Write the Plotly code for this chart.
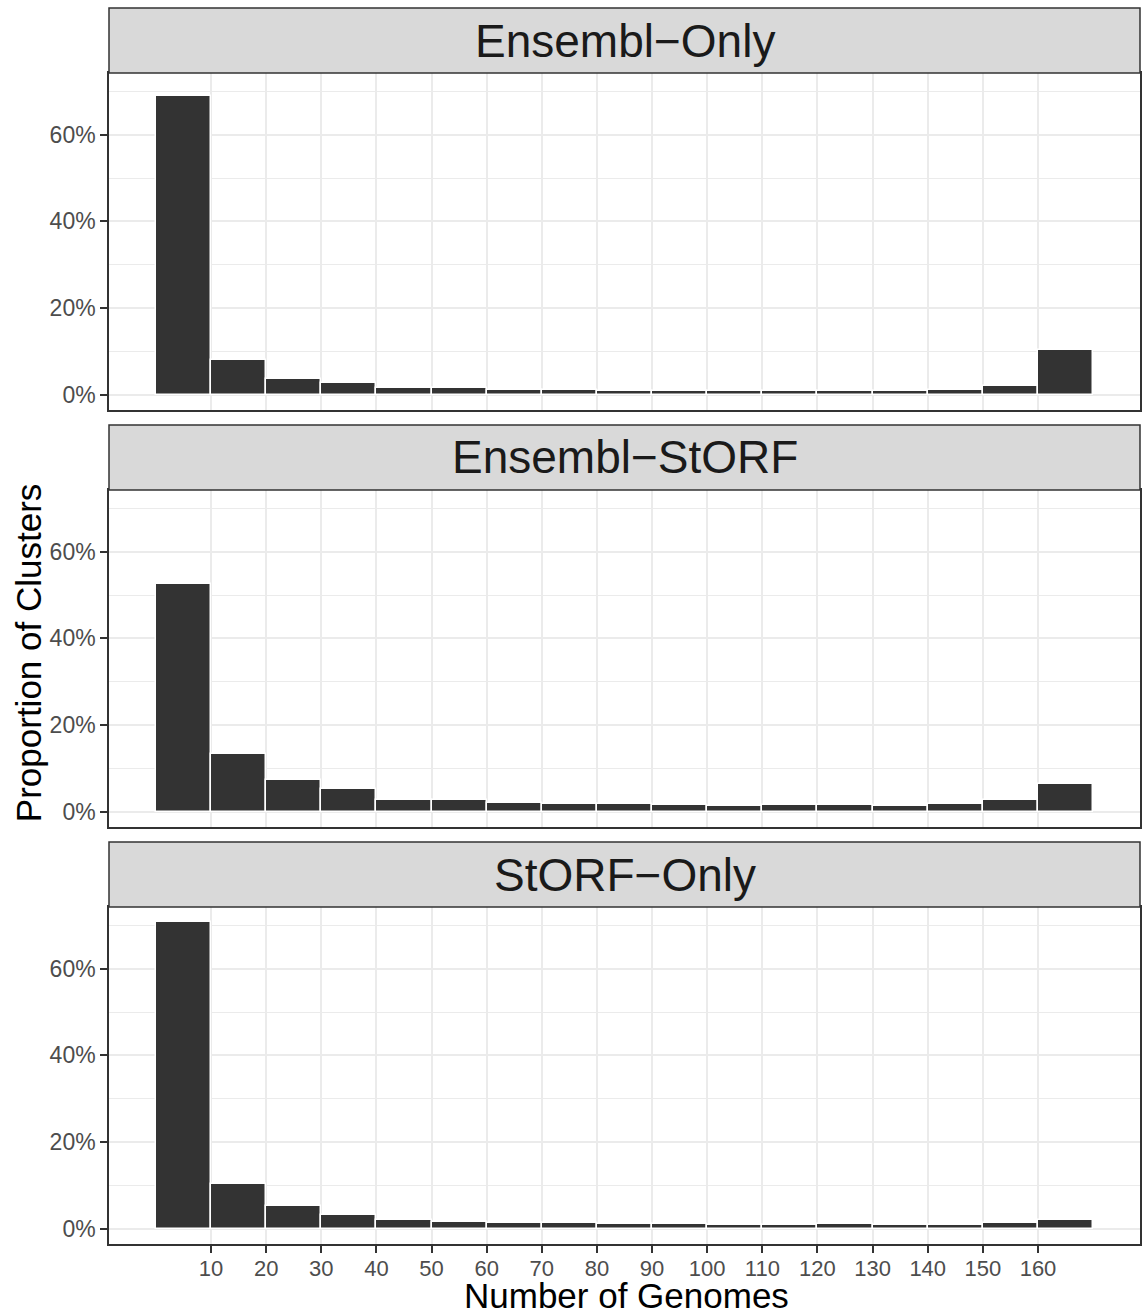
import plotly.graph_objects as go

# ---- data ----
facets = ["Ensembl\u2212Only", "Ensembl\u2212StORF", "StORF\u2212Only"]
bin_centers = [5, 15, 25, 35, 45, 55, 65, 75, 85, 95, 105, 115, 125, 135, 145, 155, 165]
ensembl_only = [69.0, 8.0, 3.7, 2.6, 1.5, 1.5, 1.1, 1.1, 0.9, 0.85, 0.8, 0.8, 0.8, 0.8, 1.0, 1.9, 10.2]
ensembl_storf = [52.6, 13.3, 7.4, 5.2, 2.8, 2.6, 2.1, 1.8, 1.75, 1.6, 1.4, 1.5, 1.45, 1.2, 1.7, 2.75, 6.4]
storf_only = [70.7, 10.4, 5.3, 3.2, 2.05, 1.5, 1.3, 1.2, 1.0, 1.0, 0.9, 0.9, 1.0, 0.85, 0.9, 1.3, 2.05]
x_ticks = [10, 20, 30, 40, 50, 60, 70, 80, 90, 100, 110, 120, 130, 140, 150, 160]
y_ticks = [0, 20, 40, 60]
y_minor = [10, 30, 50, 70]
series = [ensembl_only, ensembl_storf, storf_only]

# ---- layout geometry (pixels) ----
W, H = 1143, 1315
ML, MR, MT, MB = 109, 1, 8, 71
plot_h = H - MT - MB  # 1236
def py(p):  # pixel y -> paper
    return (H - MB - p) / plot_h

panels = [(73, 410), (490, 827), (907, 1244)]
strips = [(8, 73), (425, 490), (842, 907)]

fig = go.Figure()
font_family = "Liberation Sans, Arial, sans-serif"

for i, vals in enumerate(series):
    n = "" if i == 0 else str(i + 1)
    fig.add_trace(go.Bar(
        x=bin_centers, y=vals, width=10,
        marker=dict(color="#333333", line=dict(color="white", width=1.5)),
        xaxis="x" + n, yaxis="y" + n, showlegend=False, hoverinfo="x+y",
    ))
    top, bot = panels[i]
    last = (i == 2)
    fig.update_layout(**{
        "xaxis" + n: dict(
            domain=[0, 1], anchor="y" + n, range=[-8.5, 178.5],
            tickvals=x_ticks, ticktext=[str(t) for t in x_ticks],
            showticklabels=last, ticks="outside" if last else "", ticklen=7, tickwidth=1.5,
            tickcolor="#333333", ticklabelstandoff=-3,
            tickfont=dict(size=22, color="#4D4D4D", family=font_family),
            showgrid=True, gridcolor="#EBEBEB", gridwidth=2,
            showline=True, linecolor="#333333", linewidth=1.5, mirror=True,
            zeroline=False, fixedrange=True,
        ),
        "yaxis" + n: dict(
            domain=[py(bot), py(top)], anchor="x" + n, range=[-3.535, 74.235],
            tickvals=y_ticks, ticktext=[f"{t}%" for t in y_ticks],
            ticks="outside", ticklen=7, tickwidth=1.5, tickcolor="#333333",
            tickfont=dict(size=23, color="#4D4D4D", family=font_family),
            showgrid=True, gridcolor="#EBEBEB", gridwidth=2,
            minor=dict(tickvals=y_minor, showgrid=True, gridcolor="#EBEBEB", gridwidth=1, ticks=""),
            showline=True, linecolor="#333333", linewidth=1.5, mirror=True,
            zeroline=False, fixedrange=True,
        ),
    })

shapes = []
annotations = []
for i, (s_top, s_bot) in enumerate(strips):
    shapes.append(dict(type="rect", xref="paper", yref="paper",
                       x0=0, x1=1, y0=py(s_bot), y1=py(s_top),
                       fillcolor="#D9D9D9", line=dict(color="#333333", width=1.5), layer="above"))
    annotations.append(dict(text=facets[i], xref="paper", yref="paper",
                            x=0.5, y=(py(s_bot) + py(s_top)) / 2, xanchor="center", yanchor="middle",
                            showarrow=False, font=dict(size=46, color="#1A1A1A", family=font_family)))

annotations.append(dict(text="Number of Genomes", xref="paper", yref="paper",
                        x=(628 - ML) / (W - ML - MR), y=py(1295), xanchor="center", yanchor="middle",
                        showarrow=False, font=dict(size=35, color="black", family=font_family)))
annotations.append(dict(text="Proportion of Clusters", xref="paper", yref="paper",
                        x=(28 - ML) / (W - ML - MR), y=py(653), xanchor="center", yanchor="middle",
                        textangle=-90, showarrow=False,
                        font=dict(size=35, color="black", family=font_family)))

fig.update_layout(
    width=W, height=H,
    margin=dict(l=ML, r=MR, t=MT, b=MB),
    paper_bgcolor="white", plot_bgcolor="white",
    shapes=shapes, annotations=annotations,
    bargap=0, showlegend=False,
    font=dict(family=font_family),
)

fig.write_html("out.html", config={"displayModeBar": False})
